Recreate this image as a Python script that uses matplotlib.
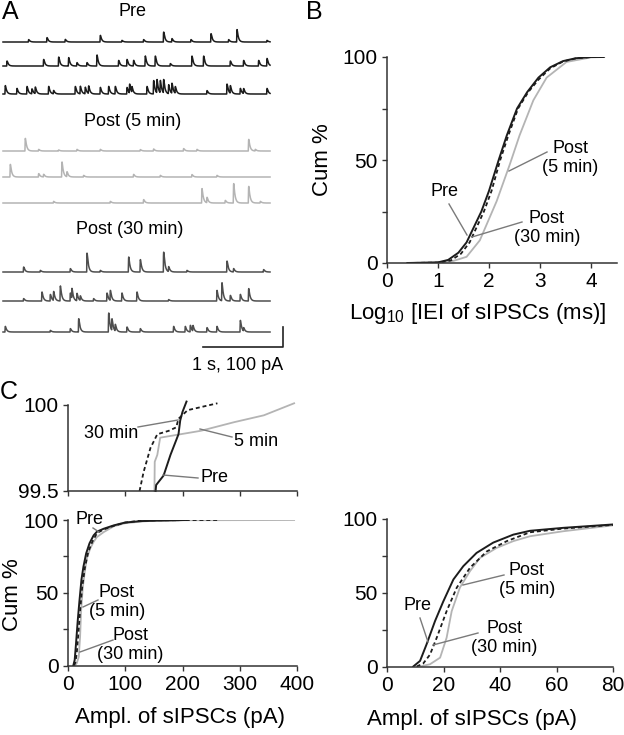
import numpy as np
import matplotlib
matplotlib.use("Agg")
import matplotlib.pyplot as plt
from matplotlib.lines import Line2D

plt.rcParams['font.family'] = ['Liberation Sans', 'DejaVu Sans']
plt.rcParams['mathtext.default'] = 'regular'

# ---------------- data ----------------
# Panel A: sIPSC events per sweep (time in s, amplitude in pA)
PRE_T = [
    [0.317, 0.546, 0.775, 1.213, 1.483, 1.754, 2.004, 2.108, 2.346, 2.596, 2.817, 2.921, 3.296],
    [0.046, 0.504, 0.692, 0.817, 0.921, 1.046, 1.171, 1.442, 1.546, 1.629, 1.775, 1.9, 2.088,
     2.358, 2.504, 2.838, 3.004, 3.192, 3.296],
    [0.025, 0.171, 0.296, 0.358, 0.4, 0.567, 0.629, 0.9, 0.963, 1.025, 1.067, 1.213, 1.317, 1.4,
     1.546, 1.579, 1.608, 1.796, 1.879, 1.921, 1.963, 2.004, 2.067, 2.108, 2.15, 2.546, 2.796,
     2.838, 2.963, 3.004, 3.296],
]
PRE_A = [
    [12, 22, 13, 33, 8, 12, 50, 17, 12, 42, 12, 62, 8],
    [25, 33, 45, 42, 17, 17, 55, 28, 33, 28, 50, 50, 12, 50, 50, 25, 28, 28, 38],
    [42, 28, 38, 25, 33, 38, 17, 38, 38, 33, 38, 33, 38, 38, 33, 45, 28, 38, 67, 67, 62, 67,
     45, 50, 33, 17, 50, 38, 28, 25, 28],
]
POST5_T = [
    [0.275, 0.442, 0.692, 0.921, 1.213, 1.713, 1.879, 2.254, 2.421, 3.067, 3.15],
    [0.0875, 0.442, 0.504, 0.733, 0.796, 1.004, 1.629, 1.963, 2.358, 2.671],
    [0.629, 1.338, 1.754, 2.483, 2.546, 2.775, 2.879, 3.067, 3.213],
]
POST5_A = [
    [63, 8, 5, 8, 8, 7, 10, 12, 8, 58, 8],
    [63, 17, 13, 75, 25, 8, 13, 8, 12, 8],
    [8, 8, 17, 72, 27, 13, 97, 83, 8],
]
POST30_T = [
    [0.254, 0.463, 0.838, 1.046, 1.213, 1.567, 1.713, 2.004, 2.067, 2.296, 2.796, 2.879, 3.254],
    [0.254, 0.483, 0.588, 0.629, 0.713, 0.838, 0.858, 0.921, 0.963, 1.129, 1.296, 1.338, 1.483,
     1.671, 2.067, 2.671, 2.733, 2.838, 2.963, 3.067],
    [0.025, 0.588, 0.838, 0.942, 1.317, 1.358, 1.4, 1.546, 1.713, 2.129, 2.275, 2.338, 2.371,
     2.546, 2.671, 2.963, 3.004],
]
POST30_A = [
    [25, 8, 17, 95, 8, 75, 62, 100, 25, 8, 55, 17, 12],
    [12, 45, 33, 45, 75, 40, 50, 37, 23, 12, 40, 50, 40, 45, 7, 53, 90, 28, 33, 62],
    [28, 8, 17, 67, 95, 58, 33, 25, 17, 28, 28, 33, 28, 22, 28, 58, 17],
]
SWEEP_DUR = 3.34      # s
SCALE_T, SCALE_I = 1.0, 100.0   # scale bar: 1 s, 100 pA

# Panel B: cumulative distribution of log10(IEI, ms)
IEI_PRE_X = [0.4, 1.0, 1.2, 1.4, 1.56, 1.85, 2.0, 2.19, 2.35, 2.55, 2.75, 2.97, 3.2, 3.45, 3.7, 4.0, 4.25]
IEI_PRE_Y = [0, 0.3, 1.5, 5, 10, 25, 35, 50, 62, 75, 83, 90, 95, 98, 99.4, 100, 100]
IEI_P5_X = [0.4, 1.0, 1.3, 1.56, 1.82, 2.15, 2.41, 2.6, 2.87, 3.13, 3.52, 4.0, 4.26]
IEI_P5_Y = [0, 0.2, 1, 3, 11, 30, 48, 62, 79, 90, 97.6, 99.8, 100]
IEI_P30_X = [0.4, 1.0, 1.25, 1.45, 1.62, 1.9, 2.05, 2.22, 2.38, 2.57, 2.77, 2.97, 3.2, 3.45, 3.7, 4.0, 4.2]
IEI_P30_Y = [0, 0.2, 1.2, 4.5, 10, 25, 35, 50, 62, 75, 83, 89, 94.5, 97.8, 99.3, 100, 100]

# Panel C: cumulative distribution of amplitudes (pA)
AMP_PRE_X = [9.3, 11.7, 14.0, 17.0, 19.9, 23.5, 27.0, 31.7, 37.6, 44.7, 50.6, 62.4, 80, 100, 130,
             153, 154, 167, 170, 179, 193, 196, 200, 207]
AMP_PRE_Y = [0, 3.8, 15, 30.8, 44, 59, 68, 77, 84, 89.4, 92, 94, 96.3, 98.3, 99.3,
             99.5, 99.535, 99.59, 99.62, 99.71, 99.83, 99.91, 99.96, 100.02]
AMP_P5_X = [11.7, 15.2, 18.8, 21.1, 22.9, 25.8, 29.4, 32.9, 38.8, 44.7, 50.6, 62.4, 80, 100, 130,
            151, 151.5, 156, 161, 232, 290, 342, 395]
AMP_P5_Y = [0, 1.5, 6, 19.5, 37.5, 53.5, 64.7, 73.6, 80.4, 85, 88.3, 91.7, 95.7, 97.8, 99.0,
            99.5, 99.67, 99.71, 99.81, 99.85, 99.9, 99.94, 100.01]
AMP_P30_X = [10.5, 12.8, 15.2, 17.6, 21.1, 24.7, 29.4, 35.3, 42.4, 50.6, 62.4, 80, 100,
             125, 132, 144, 156, 176, 189, 193, 209, 261]
AMP_P30_Y = [0, 2, 8, 19.5, 37.5, 53.5, 67, 78, 85, 91, 93.5, 96, 98.2,
             99.5, 99.61, 99.75, 99.83, 99.85, 99.87, 99.92, 99.97, 100.01]

# ---------------- style ----------------
W, H = 624, 735
C_PRE, C_P5, C_P30 = '#1c1c1c', '#b4b4b4', '#4e4e4e'
C_LEAD = '#7a7a7a'
SPINE = '#333333'
FS_TICK, FS_LAB, FS_ANN, FS_LET = 15, 16, 13, 18
DOT = (0, (2.2, 1.6))

fig = plt.figure(figsize=(W / 100, H / 100), dpi=100)


def rect(l, t, r, b):
    return [l / W, 1 - b / H, (r - l) / W, (b - t) / H]


def ftext(x, y, s, **kw):
    kw.setdefault('fontsize', FS_ANN)
    kw.setdefault('ha', 'center')
    kw.setdefault('va', 'center')
    fig.text(x / W, 1 - y / H, s, **kw)


def fline(x1, y1, x2, y2, color=C_LEAD, lw=1.0):
    fig.add_artist(Line2D([x1 / W, x2 / W], [1 - y1 / H, 1 - y2 / H],
                          transform=fig.transFigure, color=color, lw=lw))


def style_axes(ax):
    for s in ['top', 'right']:
        ax.spines[s].set_visible(False)
    for s in ['left', 'bottom']:
        ax.spines[s].set_color(SPINE)
        ax.spines[s].set_linewidth(1.1)
    ax.tick_params(which='both', direction='out', length=3.5, width=1.0, color=SPINE,
                   labelsize=FS_TICK, pad=3)


# ---------------- Panel A ----------------
axA = fig.add_axes(rect(0, 0, 300, 375))
axA.set_xlim(-3 / 80, 297 / 80)
axA.set_ylim(0, 375 * 5)
axA.axis('off')

t = np.arange(0, SWEEP_DUR, 0.002)
tau_r, tau_d = 0.002, 0.016
tp = np.log(tau_d / tau_r) * tau_d * tau_r / (tau_d - tau_r)
kpeak = np.exp(-tp / tau_d) - np.exp(-tp / tau_r)


def sweep(times, amps):
    y = np.zeros_like(t)
    for ti, ai in zip(times, amps):
        d = t - ti
        m = d > 0
        y[m] += ai * (np.exp(-d[m] / tau_d) - np.exp(-d[m] / tau_r)) / kpeak
    return y


baselines_px = {'pre': [42, 66, 94], 'p5': [151, 177, 203], 'p30': [272, 301, 332]}
for key, T, A, col in [('pre', PRE_T, PRE_A, C_PRE), ('p5', POST5_T, POST5_A, C_P5),
                       ('p30', POST30_T, POST30_A, C_P30)]:
    for i in range(3):
        off = (375 - baselines_px[key][i]) * 5
        axA.plot(t, off + sweep(T[i], A[i]), color=col, lw=1.1)

# scale bar
sb_x = 3.495
sb_y = (375 - 347) * 5
axA.plot([sb_x - SCALE_T, sb_x, sb_x], [sb_y, sb_y, sb_y + SCALE_I], color='#222222', lw=1.2)

ftext(132, 11, 'Pre')
ftext(133, 121, 'Post (5 min)')
ftext(130, 229, 'Post (30 min)')
ftext(238, 365, '1 s, 100 pA')
ftext(10, 12, 'A', fontsize=FS_LET)
ftext(314, 12, 'B', fontsize=FS_LET)
ftext(9, 392, 'C', fontsize=FS_LET)

# ---------------- Panel B ----------------
axB = fig.add_axes(rect(387, 57, 616.5, 263))
style_axes(axB)
axB.plot(IEI_P5_X, IEI_P5_Y, color=C_P5, lw=1.3)
axB.plot(IEI_PRE_X, IEI_PRE_Y, color=C_PRE, lw=1.4)
axB.plot(IEI_P30_X, IEI_P30_Y, color=C_PRE, lw=1.3, linestyle=DOT)
axB.set_xlim(0, 4.5)
axB.set_ylim(0, 100)
axB.set_xticks([0, 1, 2, 3, 4])
axB.set_yticks([0, 50, 100])
axB.set_yticks([25, 75], minor=True)
ftext(322, 160, 'Cum %', fontsize=FS_LAB, rotation=90)
ftext(478, 314, 'Log$_{10}$ [IEI of sIPSCs (ms)]', fontsize=FS_LAB)

ftext(445, 191, 'Pre')
fline(449, 204, 467, 235)
ftext(570, 158, 'Post\n(5 min)', linespacing=1.15)
fline(547, 152, 509, 171)
ftext(547, 228, 'Post\n(30 min)', linespacing=1.15)
fline(522, 222, 472, 237)

# ---------------- Panel C inset ----------------
axI = fig.add_axes(rect(68, 405, 297, 491))
style_axes(axI)


def tail(xs, ys):
    xs, ys = np.asarray(xs), np.asarray(ys)
    m = ys >= 99.5
    return xs[m], ys[m]


x, y = tail(AMP_P5_X, AMP_P5_Y)
axI.plot(x, y, color=C_P5, lw=1.3, clip_on=False)
x, y = tail(AMP_P30_X, AMP_P30_Y)
axI.plot(x, y, color=C_PRE, lw=1.3, linestyle=DOT, clip_on=False)
x, y = tail(AMP_PRE_X, AMP_PRE_Y)
axI.plot(x, y, color=C_PRE, lw=1.4, clip_on=False)
axI.set_xlim(0, 400)
axI.set_ylim(99.5, 100)
axI.set_xticks([0, 100, 200, 300, 400])
axI.set_xticklabels([])
axI.set_yticks([99.5, 100])
axI.set_yticklabels(['99.5', '100'])

ftext(111, 434, '30 min')
fline(138, 427, 178, 420)
ftext(256, 442, '5 min')
fline(232, 437, 200, 429)
ftext(215, 477, 'Pre')
fline(198, 478, 163, 475)

# ---------------- Panel C bottom-left ----------------
axL = fig.add_axes(rect(68, 520, 297, 665.5))
style_axes(axL)
axL.plot(AMP_P5_X, AMP_P5_Y, color=C_P5, lw=1.3)
axL.plot(AMP_P30_X, AMP_P30_Y, color=C_PRE, lw=1.3, linestyle=DOT)
axL.plot(AMP_PRE_X, AMP_PRE_Y, color=C_PRE, lw=1.4)
axL.set_xlim(0, 400)
axL.set_ylim(0, 100)
axL.set_xticks([0, 100, 200, 300, 400])
axL.set_yticks([0, 50, 100])
axL.set_yticks([25, 75], minor=True)
ftext(12, 595, 'Cum %', fontsize=FS_LAB, rotation=90)
ftext(180, 718, 'Ampl. of sIPSCs (pA)', fontsize=FS_LAB)

ftext(90, 520, 'Pre')
fline(93, 528, 99, 532)
ftext(117, 602, 'Post\n(5 min)', linespacing=1.15)
fline(98, 600, 83, 607)
ftext(130, 645, 'Post\n(30 min)', linespacing=1.15)
fline(113, 640, 80, 652)

# ---------------- Panel C bottom-right ----------------
axR = fig.add_axes(rect(387, 519, 613, 666.5))
style_axes(axR)
axR.plot(AMP_P5_X, AMP_P5_Y, color=C_P5, lw=1.3)
axR.plot(AMP_P30_X, AMP_P30_Y, color=C_PRE, lw=1.3, linestyle=DOT)
axR.plot(AMP_PRE_X, AMP_PRE_Y, color=C_PRE, lw=1.4)
axR.set_xlim(0, 80)
axR.set_ylim(0, 100)
axR.set_xticks([0, 20, 40, 60, 80])
axR.set_yticks([0, 50, 100])
axR.set_yticks([25, 75], minor=True)
ftext(472, 720, 'Ampl. of sIPSCs (pA)', fontsize=FS_LAB)

ftext(418, 606, 'Pre')
fline(420, 618, 428, 642)
ftext(527, 580, 'Post\n(5 min)', linespacing=1.15)
fline(504, 575, 463, 585)
ftext(504, 638, 'Post\n(30 min)', linespacing=1.15)
fline(478, 633, 433, 645)

fig.savefig('out.png', dpi=100)
